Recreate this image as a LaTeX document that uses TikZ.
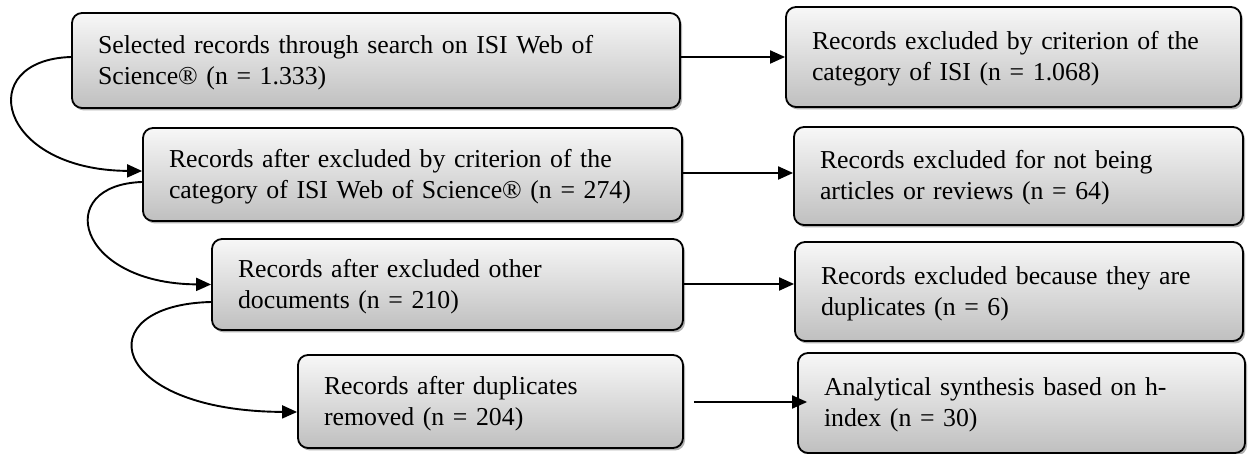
\documentclass[tikz,border=0pt]{standalone}
\usepackage{fontspec}
\setmainfont{Liberation Serif}
\usetikzlibrary{arrows.meta,shadows}
\begin{document}
\begin{tikzpicture}[x=1pt,y=1pt,
  box/.style={draw=black, line width=1.8pt, rounded corners=10pt,
    top color=black!3, bottom color=black!25,
    drop shadow={shadow xshift=2pt, shadow yshift=-2.5pt, fill=black, opacity=0.3},
    inner xsep=26pt, inner ysep=0pt, align=left, text height=22pt,
    font=\fontsize{25.8pt}{31pt}\selectfont},
  arr/.style={line width=1.9pt, -{Triangle[length=15pt,width=13pt]}}]
\useasboundingbox (0,0) rectangle (1251,454);

\node[box, minimum width=608, minimum height=95, text width=556pt] (B1) at (376,393.5)
  {Selected records through search on ISI Web of\\ Science® (n = 1.333)};
\node[box, minimum width=539, minimum height=93, text width=487pt] (B2) at (412.5,279.5)
  {Records after excluded by criterion of the\\ category of ISI Web of Science® (n = 274)};
\node[box, minimum width=471, minimum height=91, text width=419pt] (B3) at (447.5,169.5)
  {Records after excluded other\\ documents (n = 210)};
\node[box, minimum width=385, minimum height=93, text width=333pt] (B4) at (490.5,52.5)
  {Records after duplicates\\ removed (n = 204)};

\node[box, minimum width=455, minimum height=100, text width=403pt] (R1) at (1013.5,397)
  {Records excluded by criterion of the\\ category of ISI (n = 1.068)};
\node[box, minimum width=449, minimum height=98, text width=397pt] (R2) at (1018.5,278)
  {Records excluded for not being\\ articles or reviews (n = 64)};
\node[box, minimum width=448, minimum height=99, text width=396pt] (R3) at (1019,162.5)
  {Records excluded because they are\\ duplicates (n = 6)};
\node[box, minimum width=447, minimum height=100, text width=395pt] (R4) at (1021.5,51)
  {Analytical synthesis based on h-\\ index (n = 30)};

\draw[arr] (R1.west -| B1.east) -- (R1.west);
\draw[arr] ([yshift=1.5]B2.east) -- ([yshift=1.5]B2.east -| R2.west);
\draw[arr] ([yshift=0.5]B3.east) -- ([yshift=0.5]B3.east -| R3.west);
\draw[arr] ([xshift=10,yshift=-0.5]B4.east) -- ([xshift=10,yshift=-0.5]B4.east -| R4.west);

\draw[arr] ([yshift=3.5]B1.west) .. controls +(-98,-3) and +(-145,1) .. ([yshift=3.5]B2.west);
\draw[arr] ([yshift=-7.5]B2.west) .. controls +(-90,-3) and +(-135,1) .. (B3.west);
\draw[arr] ([yshift=-17.5]B3.west) .. controls +(-125,-3) and +(-190,1) .. ([yshift=-10.5]B4.west);
\end{tikzpicture}
\end{document}
